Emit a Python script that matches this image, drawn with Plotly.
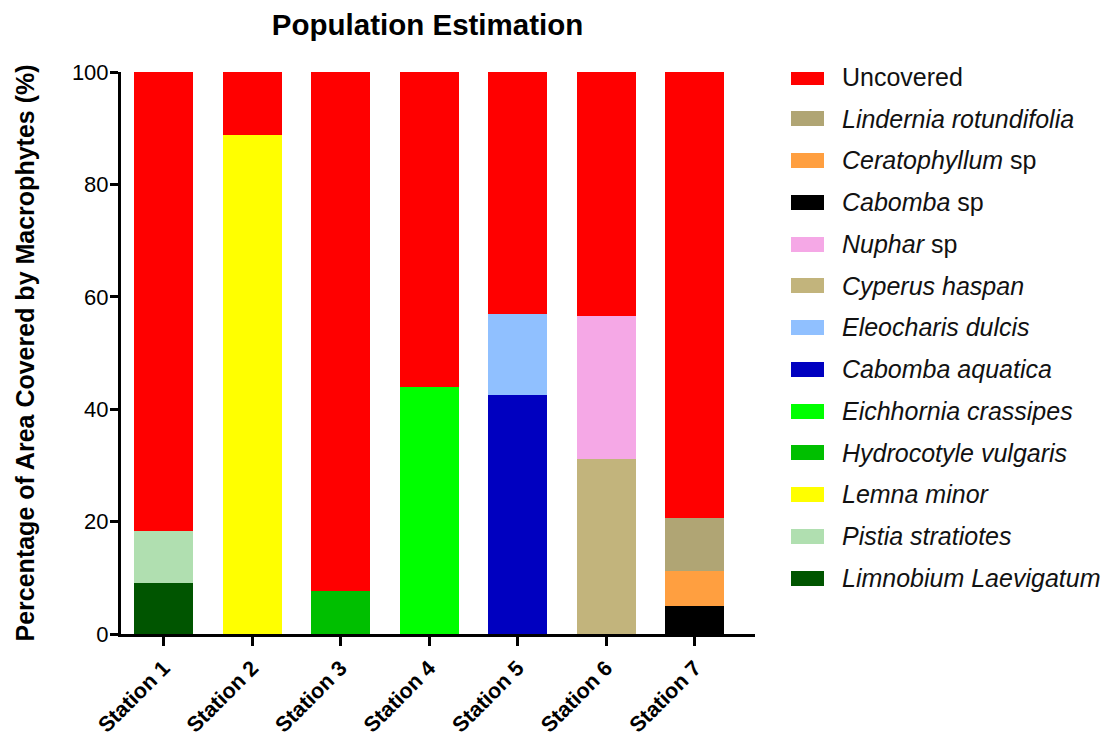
import plotly.graph_objects as go

stations = ["Station 1", "Station 2", "Station 3", "Station 4", "Station 5", "Station 6", "Station 7"]

# Stack order: bottom to top
species = [
    "<i>Limnobium Laevigatum</i>",
    "<i>Pistia stratiotes</i>",
    "<i>Lemna minor</i>",
    "<i>Hydrocotyle vulgaris</i>",
    "<i>Eichhornia crassipes</i>",
    "<i>Cabomba aquatica</i>",
    "<i>Eleocharis dulcis</i>",
    "<i>Cyperus haspan</i>",
    "<i>Nuphar</i> sp",
    "<i>Cabomba</i> sp",
    "<i>Ceratophyllum</i> sp",
    "<i>Lindernia rotundifolia</i>",
    "Uncovered",
]

limnobium = [9.0, 0, 0, 0, 0, 0, 0]
pistia = [9.3, 0, 0, 0, 0, 0, 0]
lemna = [0, 88.8, 0, 0, 0, 0, 0]
hydrocotyle = [0, 0, 7.7, 0, 0, 0, 0]
eichhornia = [0, 0, 0, 44.0, 0, 0, 0]
cabomba_aquatica = [0, 0, 0, 0, 42.6, 0, 0]
eleocharis = [0, 0, 0, 0, 14.3, 0, 0]
cyperus = [0, 0, 0, 0, 0, 31.1, 0]
nuphar = [0, 0, 0, 0, 0, 25.4, 0]
cabomba_sp = [0, 0, 0, 0, 0, 0, 4.9]
ceratophyllum = [0, 0, 0, 0, 0, 0, 6.3]
lindernia = [0, 0, 0, 0, 0, 0, 9.4]
uncovered = [81.7, 11.2, 92.3, 56.0, 43.1, 43.5, 79.4]

values = [limnobium, pistia, lemna, hydrocotyle, eichhornia, cabomba_aquatica,
          eleocharis, cyperus, nuphar, cabomba_sp, ceratophyllum, lindernia, uncovered]

colors = ["#005500", "#B0DFB0", "#FFFF00", "#00BF00", "#00FF00", "#0000C0",
          "#90C0FF", "#C2B47C", "#F5A8E6", "#000000", "#FF9F40", "#B0A574", "#FF0000"]

n = len(species)
fig = go.Figure()

# Stacked bars (bottom to top)
for i in range(n):
    fig.add_trace(go.Bar(
        x=stations, y=values[i], name=species[i],
        marker=dict(color=colors[i], line=dict(width=0)),
        width=0.667, xaxis="x", yaxis="y",
    ))

# Legend key: one swatch per species on its own small axis pair
swatch_len = [1] * n
fig.add_trace(go.Bar(
    y=species, x=swatch_len, orientation="h", width=0.36,
    marker=dict(color=colors, line=dict(width=0)),
    xaxis="x2", yaxis="y2", hoverinfo="y", showlegend=False,
))

fig.update_layout(
    barmode="stack",
    showlegend=False,
    width=1115, height=740,
    paper_bgcolor="white", plot_bgcolor="white",
    margin=dict(l=113, r=5, t=64, b=114),
    font=dict(family="Liberation Sans, Arial, sans-serif", color="black"),
    title=dict(text="<b>Population Estimation</b>", xref="paper", x=0.3075, xanchor="center",
               yref="container", y=0.978, yanchor="middle", font=dict(size=29.5, color="black")),
    xaxis=dict(type="category", domain=[0, 0.6359], range=[-0.48, 6.68],
               showline=True, linecolor="black", linewidth=3,
               ticks="outside", ticklen=9, tickwidth=3, tickcolor="black",
               tickangle=-45, tickfont=dict(size=21.5, color="black"),
               ticklabelstandoff=1,
               tickprefix="<b>", ticksuffix="</b>", showgrid=False, zeroline=False),
    yaxis=dict(range=[0, 100], showline=True, linecolor="black", linewidth=3,
               ticks="outside", ticklen=8, tickwidth=3, tickcolor="black",
               tickvals=[0, 20, 40, 60, 80, 100],
               tickfont=dict(size=22, color="black"), tickprefix="<b>", ticksuffix="</b>",
               ticklabelstandoff=-3,
               showgrid=False, zeroline=False,
               title=dict(text="<b>Percentage of Area Covered by Macrophytes (%)</b>",
                          font=dict(size=25, color="black"), standoff=31)),
    xaxis2=dict(domain=[0.6720, 0.7051], range=[0, 1], visible=False, fixedrange=True),
    yaxis2=dict(type="category", anchor="x2", side="right", domain=[0, 1],
                range=[-1.34, 12.12], showline=False, showgrid=False, zeroline=False,
                ticks="", ticklabelstandoff=17, fixedrange=True,
                tickfont=dict(size=25, color="#111111")),
)

fig.write_html("out.html")
